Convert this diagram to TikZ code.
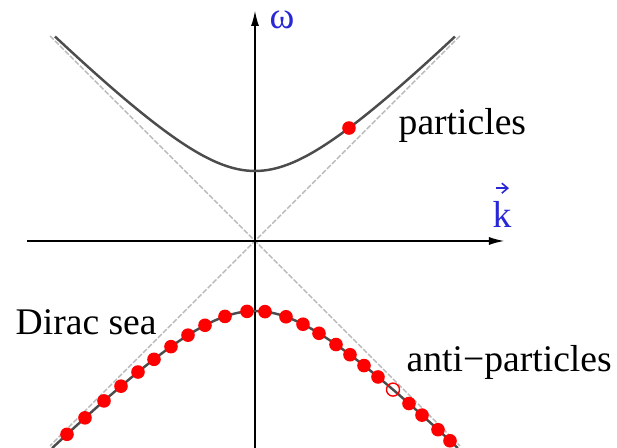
\documentclass[tikz,border=0pt]{standalone}
\usepackage{fontspec}
\setmainfont{Liberation Serif}
\usetikzlibrary{arrows.meta}

\definecolor{axisblue}{RGB}{40,40,215}
\definecolor{dotred}{RGB}{255,0,0}

\begin{document}
\begin{tikzpicture}[
    declare function={disp(\q)=sqrt(\q*\q+0.49*exp(-\q*\q/4));},
    cone/.style={gray!55, line width=0.4pt, dash pattern=on 1.5pt off 0.5pt},
    branch/.style={black!70, line width=0.7pt},
    axis/.style={line width=0.6pt, -{Latex[length=1.6mm,width=0.8mm]}},
    state/.style={fill=dotred, draw=none},
    lbl/.style={font=\fontsize{10.7pt}{13pt}\selectfont, inner sep=0pt}
]
\useasboundingbox (-2.55,-2.07) rectangle (3.62,2.41);

% Light cone
\draw[cone] (-2.05,2.05) -- (2.05,-2.05);
\draw[cone] (2.05,2.05) -- (-2.05,-2.05);

% Axes
\draw[axis] (-2.28,0) -- (2.50,0);
\draw[axis] (0,-2.07) -- (0,2.31);

% Positive energy branch
\draw[branch] plot[domain=-2:2, samples=101, smooth] (\x,{disp(\x)});

% Negative energy branch
\draw[branch] plot[domain=-2.03:2.03, samples=101, smooth] (\x,{-disp(\x)});

% Filled sea
\foreach \kk in {-1.88,-1.70,-1.51,-1.34,-1.17,-1.01,-0.84,-0.67,-0.50,-0.30,-0.08,
                 0.10,0.31,0.48,0.64,0.81,0.95,1.09,1.23,1.54,1.67,1.83,1.95}
    \fill[state] (\kk,{-disp(\kk)}) circle (0.068);

% Hole
\draw[dotred, line width=0.4pt] (1.38,{-disp(1.38)}) circle (0.065);

% Particle
\fill[state] (0.94,{disp(0.94)}) circle (0.068);

% Labels
\node[lbl, text=axisblue, anchor=center] (omega) at (0.27,2.21) {ω};
\node[lbl, text=axisblue, anchor=base] (kvec) at (2.47,0.13) {k};
\draw[axisblue, line width=0.45pt, -{Straight Barb[length=0.6mm,width=1.0mm]}]
    ([xshift=-0.6mm,yshift=1.3mm]kvec.north) -- ++(1.3mm,0);
\node[lbl, anchor=base west] (particles) at (1.43,1.06) {particles};
\node[lbl, anchor=base west] (diracsea) at (-2.40,-0.94) {Dirac sea};
\node[lbl, anchor=base west] (antiparticles) at (1.51,-1.31) {anti−particles};
\end{tikzpicture}
\end{document}
